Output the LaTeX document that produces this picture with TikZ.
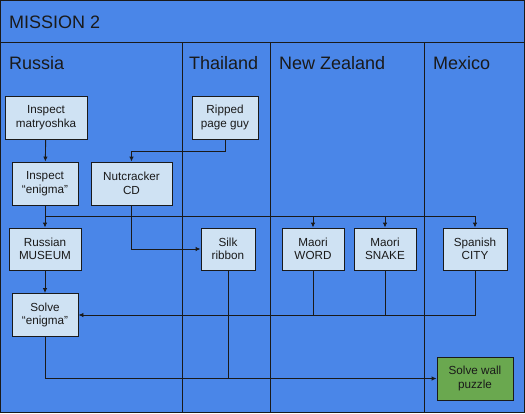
\documentclass[tikz,border=0pt]{standalone}
\usepackage{fontspec}
\setmainfont{Liberation Sans}
\usetikzlibrary{arrows.meta}
\definecolor{bgblue}{HTML}{4A86E8}
\definecolor{boxfill}{HTML}{CFE2F3}
\definecolor{greenfill}{HTML}{6AA84F}
\definecolor{ink}{HTML}{1A1A1A}
\tikzset{
  stepbox/.style={draw=ink, line width=0.9pt, fill=boxfill, align=center, inner sep=0pt,
    font=\fontsize{11.7}{13.6}\selectfont, text=ink},
  greenbox/.style={stepbox, fill=greenfill},
  conn/.style={draw=ink, line width=0.9pt},
  arr/.style={conn, -{Latex[length=5pt,width=4.5pt]}},
  header/.style={anchor=base west, inner sep=0pt, font=\fontsize{18}{20}\selectfont, text=ink},
  frame/.style={draw=ink, line width=1pt}
}
\begin{document}
\begin{tikzpicture}[x=1pt,y=-1pt]
\useasboundingbox (0,0) rectangle (525,413);
\fill[bgblue] (0,0) rectangle (525,413);
% frame and columns
\draw[frame] (0.5,0.5) rectangle (524.5,412.5);
\draw[frame] (0,42) -- (525,42);
\draw[frame] (182,42) -- (182,413);
\draw[frame] (270,42) -- (270,413);
\draw[frame] (424,42) -- (424,413);
% headers
\node[header] (title) at (9,28) {MISSION 2};
\node[header] (hru) at (9,69) {Russia};
\node[header] (hth) at (189,69) {Thailand};
\node[header] (hnz) at (279,69) {New Zealand};
\node[header] (hmx) at (433,69) {Mexico};
% boxes
\node[stepbox, minimum width=82, minimum height=43] (mat) at (46,117.5) {Inspect\\matryoshka};
\node[stepbox, minimum width=66, minimum height=43] (rip) at (225,117.5) {Ripped\\page guy};
\node[stepbox, minimum width=66, minimum height=43] (enig) at (45,183.5) {Inspect\\“enigma”};
\node[stepbox, minimum width=81, minimum height=43] (nut) at (131.5,183.5) {Nutcracker\\CD};
\node[stepbox, minimum width=72, minimum height=42] (mus) at (45,249) {Russian\\MUSEUM};
\node[stepbox, minimum width=54, minimum height=42] (silk) at (228,249) {Silk\\ribbon};
\node[stepbox, minimum width=62, minimum height=42] (word) at (313,249) {Maori\\WORD};
\node[stepbox, minimum width=62, minimum height=42] (snake) at (385,249) {Maori\\SNAKE};
\node[stepbox, minimum width=64, minimum height=42] (city) at (475,249) {Spanish\\CITY};
\node[stepbox, minimum width=66, minimum height=43] (solve) at (45,315) {Solve\\“enigma”};
\node[greenbox, minimum width=76, minimum height=43] (wall) at (475,378.5) {Solve wall\\puzzle};
\coordinate (bus) at (0,216);
\coordinate (rbend) at (0,151);
% connectors
\draw[arr] (mat) -- (enig);
\draw[arr] (rip.south) |- (rbend -| nut.north) -- (nut.north);
\draw[arr] (enig) -- (mus);
\draw[arr] (enig.south) |- (bus -| word.north) -- (word.north);
\draw[arr] (enig.south) |- (bus -| snake.north) -- (snake.north);
\draw[arr] (enig.south) |- (bus -| city.north) -- (city.north);
\draw[arr] (nut.south) |- (silk.west);
\draw[arr] (mus) -- (solve);
\draw[arr] (city.south) |- (solve.east);
\draw[conn] (word.south) -- (word.south |- solve.east);
\draw[conn] (snake.south) -- (snake.south |- solve.east);
\draw[arr] (solve.south) |- (wall.west);
\draw[conn] (silk.south) -- (silk.south |- wall.west);
\end{tikzpicture}
\end{document}
